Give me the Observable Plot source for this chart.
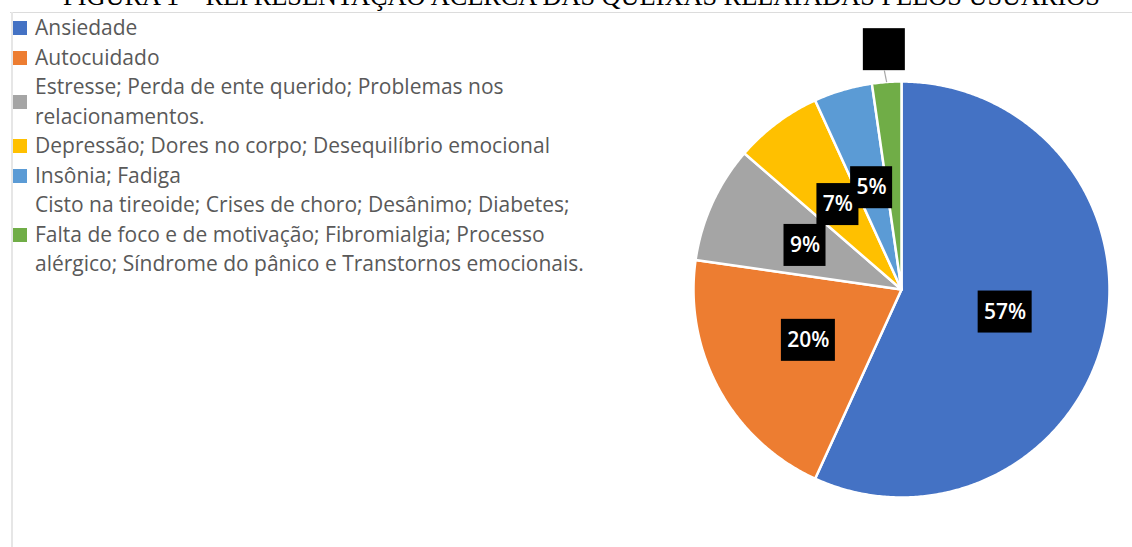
<!DOCTYPE html>
<html>
<head>
<meta charset="utf-8">
<script src="https://cdn.jsdelivr.net/npm/d3@7"></script>
<script src="https://cdn.jsdelivr.net/npm/@observablehq/plot@0.6"></script>
<style>
  html, body { margin: 0; padding: 0; background: #fff; }
  #page { position: relative; width: 1132px; height: 547px; overflow: hidden; background: #fff; }
  #title { position: absolute; white-space: nowrap; font-family: "Liberation Serif", "Times New Roman", serif; color: #000; line-height: 1; transform: translateX(-50%); }
  #topline { position: absolute; left: 10px; right: 0; top: 12px; height: 1px; background: #dcdcdc; }
  #leftline { position: absolute; left: 11px; top: 12px; bottom: 0; width: 2px; background: #e6e6e6; }
  #legend { position: absolute; left: 13px; top: 13.25px; font-family: "Open Sans", sans-serif; font-size: 21px; color: #595959; }
  .item { display: flex; align-items: center; }
  .sw { width: 14px; height: 14px; margin-right: 8px; flex: none; }
  .txt { line-height: 29.5px; white-space: nowrap; }
  #chart { position: absolute; left: 681px; top: 20px; }
</style>
</head>
<body>
<div id="page">
  <div id="title"></div>
  <div id="topline"></div>
  <div id="leftline"></div>
  <div id="legend"></div>
  <div id="chart"></div>
</div>
<script>
const titleText = "FIGURA 1 – REPRESENTAÇÃO ACERCA DAS QUEIXAS RELATADAS PELOS USUÁRIOS";
const legendLines = [
  ["Ansiedade"],
  ["Autocuidado"],
  ["Estresse; Perda de ente querido; Problemas nos", "relacionamentos."],
  ["Depressão; Dores no corpo; Desequilíbrio emocional"],
  ["Insônia; Fadiga"],
  ["Cisto na tireoide; Crises de choro; Desânimo; Diabetes;", "Falta de foco e de motivação; Fibromialgia; Processo", "alérgico; Síndrome do pânico e Transtornos emocionais."]
];
const categories = legendLines.map(l => l.join(" "));
const counts = [25, 9, 4, 3, 2, 1];
const colors = ["#4472C4", "#ED7D31", "#A5A5A5", "#FFC000", "#5B9BD5", "#70AD47"];

// Title (only its lower part is visible, as in the reference)
const title = document.getElementById("title");
title.textContent = titleText;
let fs = 21;
title.style.fontSize = fs + "px";
const w0 = title.getBoundingClientRect().width;
fs = fs * 1037 / w0;
title.style.fontSize = fs + "px";
title.style.left = "581.5px";
title.style.top = (6.5 - 0.8375 * fs) + "px";

// Legend
const legend = document.getElementById("legend");
legendLines.forEach((lines, i) => {
  const item = document.createElement("div");
  item.className = "item";
  const sw = document.createElement("div");
  sw.className = "sw";
  sw.style.background = colors[i];
  const txt = document.createElement("div");
  txt.className = "txt";
  lines.forEach((ln, j) => {
    if (j) txt.appendChild(document.createElement("br"));
    txt.appendChild(document.createTextNode(ln));
  });
  item.appendChild(sw);
  item.appendChild(txt);
  legend.appendChild(item);
});

// Pie
const data = categories.map((c, i) => ({cat: c, count: counts[i], color: colors[i]}));
const total = d3.sum(counts);
const arcs = d3.pie().sort(null).value(d => d.count)(data);
const R = 208; // pixels per unit radius
const W = 440, H = 500, cx = 220, cy = 269;

const sliceMarks = arcs.map(a => {
  const pts = [{x: 0, y: 0}];
  const n = Math.max(4, Math.ceil((a.endAngle - a.startAngle) / (Math.PI / 360)));
  for (let k = 0; k <= n; k++) {
    const t = a.startAngle + (a.endAngle - a.startAngle) * k / n;
    pts.push({x: Math.sin(t), y: Math.cos(t)});
  }
  pts.push({x: 0, y: 0});
  return Plot.line(pts, {x: "x", y: "y", fill: a.data.color, stroke: "white", strokeWidth: 2.5, strokeLinejoin: "round", curve: "linear"});
});

const labels = arcs.map(a => {
  const mid = (a.startAngle + a.endAngle) / 2;
  const share = a.value / total;
  const outside = share < 0.03;
  const r = outside ? 1.156 : 0.51;
  const text = Math.round(share * 100) + "%";
  return {
    x: r * Math.sin(mid), y: r * Math.cos(mid), mid, r, text, outside,
    w: (text.length > 2 ? 54 : 42) / R, h: 42 / R
  };
});

const plot = Plot.plot({
  width: W, height: H,
  marginTop: 0, marginBottom: 0, marginLeft: 0, marginRight: 0,
  x: {domain: [-cx / R, (W - cx) / R], axis: null},
  y: {domain: [-(H - cy) / R, cy / R], axis: null},
  style: {background: "transparent", overflow: "visible"},
  marks: [
    ...sliceMarks,
    Plot.link(labels.filter(d => d.outside), {
      x1: d => Math.sin(d.mid) * 1.0, y1: d => Math.cos(d.mid) * 1.0,
      x2: d => d.x, y2: d => d.y - d.h / 2,
      stroke: "#a6a6a6", strokeWidth: 1.2
    }),
    Plot.rect(labels, {
      x1: d => d.x - d.w / 2, x2: d => d.x + d.w / 2,
      y1: d => d.y - d.h / 2, y2: d => d.y + d.h / 2,
      fill: "black"
    }),
    Plot.text(labels.filter(d => !d.outside), {x: "x", y: "y", text: "text", fill: "white", fontSize: 21, fontWeight: 600, fontFamily: "Open Sans"}),
    Plot.text(labels.filter(d => d.outside), {x: "x", y: "y", text: "text", fill: "black", fontSize: 21, fontWeight: 600, fontFamily: "Open Sans"})
  ]
});
document.getElementById("chart").appendChild(plot);
</script>
</body>
</html>
